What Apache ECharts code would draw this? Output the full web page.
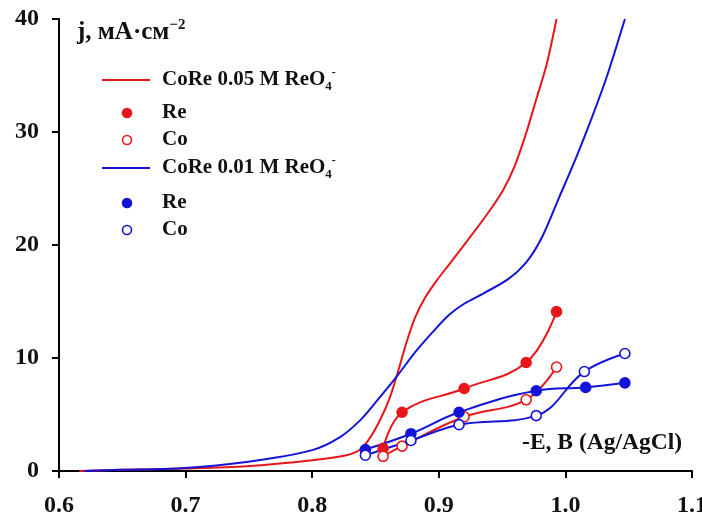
<!DOCTYPE html>
<html><head><meta charset="utf-8">
<script src="https://cdn.jsdelivr.net/npm/echarts@6/dist/echarts.min.js"></script>
<style>html,body{margin:0;padding:0;background:#fff;overflow:hidden}#c{width:702px;height:519px}</style>
</head><body><div id="c"></div>
<script>
var xTicks = [0.6, 0.7, 0.8, 0.9, 1.0, 1.1];
var yTicks = [0, 10, 20, 30, 40];

var redCurveX = [0.616,0.65,0.70,0.748,0.80,0.827,0.838,0.846,0.854,0.861,0.867,0.874,0.881,0.889,0.898,0.909,0.922,0.938,0.951,0.960,0.969,0.977,0.985,0.993];
var redCurveY = [0,0.1,0.22,0.42,0.95,1.4,1.9,3.0,4.6,6.4,8.5,11.2,13.5,15.3,16.8,18.4,20.3,22.7,24.9,27.0,29.9,32.9,35.9,40];

var blueCurveX = [0.62,0.65,0.696,0.748,0.80,0.822,0.838,0.851,0.867,0.882,0.896,0.908,0.920,0.935,0.955,0.970,0.982,0.995,1.008,1.020,1.033,1.047];
var blueCurveY = [0,0.1,0.25,0.8,1.85,3.0,4.5,6.2,8.4,10.6,12.4,13.8,14.8,15.7,17.0,18.6,20.8,24.2,27.6,31.0,35.0,40];

var redReX = [0.856,0.871,0.920,0.969,0.993];
var redReY = [2.0,5.2,7.3,9.6,14.1];
var redCoX = [0.856,0.871,0.920,0.969,0.993];
var redCoY = [1.3,2.2,4.8,6.3,9.2];
var blueReX = [0.842,0.878,0.916,0.977,1.016,1.047];
var blueReY = [1.9,3.3,5.2,7.1,7.4,7.8];
var blueCoX = [0.842,0.878,0.916,0.977,1.015,1.047];
var blueCoY = [1.4,2.7,4.1,4.9,8.8,10.4];

var RED = '#e8161b', BLUE = '#1414d8';
var FONT = '"Liberation Serif","Times New Roman",serif';

function pairs(xs, ys){ return xs.map(function(x,i){ return [x, ys[i]]; }); }

var chart = echarts.init(document.getElementById('c'), null, {renderer:'canvas'});

function curve(name, xs, ys, color){
  return {name:name, type:'line', data:pairs(xs,ys), smooth:0.3, showSymbol:false, symbol:'none',
    lineStyle:{color:color, width:2}, z:2, animation:false};
}
function pts(name, xs, ys, color, filled){
  return {name:name, type:'line', data:pairs(xs,ys), smooth:0.4, symbol:'circle', symbolSize:10, showSymbol:true,
    lineStyle:{color:color, width:2},
    itemStyle:{color: filled ? color : '#ffffff', borderColor:color, borderWidth:1.6}, z:3, animation:false};
}

var legendRows = [
  {y:80, kind:'line', color:RED, label:'CoRe 0.05 M ReO'},
  {y:113, kind:'dot', color:RED, filled:true, label:'Re'},
  {y:140, kind:'dot', color:RED, filled:false, label:'Co'},
  {y:168, kind:'line', color:BLUE, label:'CoRe 0.01 M ReO'},
  {y:203, kind:'dot', color:BLUE, filled:true, label:'Re'},
  {y:230, kind:'dot', color:BLUE, filled:false, label:'Co'}
];
var graphics = [];
legendRows.forEach(function(r){
  if (r.kind === 'line') {
    graphics.push({type:'line', shape:{x1:102,y1:r.y,x2:150,y2:r.y}, style:{stroke:r.color, lineWidth:2}});
    graphics.push({type:'text', x:162, y:r.y, style:{
      text:'{a|' + r.label + '}{sub|4}{sup|-}', verticalAlign:'middle', align:'left',
      rich:{a:{fontFamily:FONT, fontWeight:'bold', fontSize:21, fill:'#111', lineHeight:26, verticalAlign:'middle'},
            sub:{fontFamily:FONT, fontWeight:'bold', fontSize:13, fill:'#111', lineHeight:26, verticalAlign:'bottom'},
            sup:{fontFamily:FONT, fontWeight:'bold', fontSize:12, fill:'#111', lineHeight:26, verticalAlign:'top'}}
    }});
  } else {
    graphics.push({type:'circle', shape:{cx:127, cy:r.y, r:4.5}, style:{fill: r.filled ? r.color : '#fff', stroke:r.color, lineWidth:1.6}});
    graphics.push({type:'text', x:162, y:r.y, style:{text:r.label, fontFamily:FONT, fontWeight:'bold', fontSize:21, fill:'#111', verticalAlign:'middle'}});
  }
});
graphics.push({type:'text', x:77, y:33, style:{
  text:'{a|j, мА·см}{sup|−2}', verticalAlign:'middle',
  rich:{a:{fontFamily:FONT, fontWeight:'bold', fontSize:25, fill:'#111', lineHeight:30, verticalAlign:'middle'},
        sup:{fontFamily:FONT, fontWeight:'bold', fontSize:15, fill:'#111', lineHeight:30, verticalAlign:'top'}}
}});
graphics.push({type:'text', x:682, y:443, style:{text:'-E, B (Ag/AgCl)', fontFamily:FONT, fontWeight:'bold', fontSize:23.5, fill:'#111', align:'right', verticalAlign:'middle'}});

chart.setOption({
  animation:false,
  backgroundColor:'#fff',
  grid:{left:59, right:10, top:19, bottom:48, containLabel:false, outerBoundsMode:'none'},
  xAxis:{type:'value', min:xTicks[0], max:xTicks[xTicks.length-1], interval:0.1,
    axisLine:{lineStyle:{color:'#000', width:2}},
    axisTick:{show:true, inside:false, length:7, lineStyle:{color:'#000', width:2}},
    splitLine:{show:false},
    axisLabel:{margin:23, fontFamily:FONT, fontWeight:'bold', fontSize:24, color:'#111',
      hideOverlap:false, formatter:function(v){ return v.toFixed(1); }}},
  yAxis:{type:'value', min:yTicks[0], max:yTicks[yTicks.length-1], interval:10,
    axisLine:{show:true, lineStyle:{color:'#000', width:2}},
    axisTick:{show:true, inside:false, length:7, lineStyle:{color:'#000', width:2}},
    splitLine:{show:false},
    axisLabel:{margin:20, fontFamily:FONT, fontWeight:'bold', fontSize:24, color:'#111'}},
  graphic:graphics,
  series:[
    curve('CoRe 0.05', redCurveX, redCurveY, RED),
    curve('CoRe 0.01', blueCurveX, blueCurveY, BLUE),
    pts('Re 0.05', redReX, redReY, RED, true),
    pts('Co 0.05', redCoX, redCoY, RED, false),
    pts('Re 0.01', blueReX, blueReY, BLUE, true),
    pts('Co 0.01', blueCoX, blueCoY, BLUE, false)
  ]
});
</script></body></html>
